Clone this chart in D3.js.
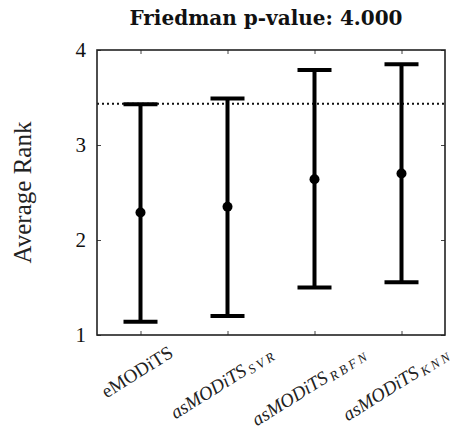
<!DOCTYPE html>
<html>
<head>
<meta charset="utf-8">
<script src="https://cdn.jsdelivr.net/npm/d3@7"></script>
<style>
    body { margin: 0; background: #fff; }
    svg { display: block; }
</style>
</head>
<body>
<div class="container"></div>
<script>
// values
const methods = ['eMODiTS', 'asMODiTS_SVR', 'asMODiTS_RBFN', 'asMODiTS_KNN'];
const labelMain = ['eMODiTS', 'asMODiTS', 'asMODiTS', 'asMODiTS'];
const labelSub = ['', 'SVR', 'RBFN', 'KNN'];
const meanRank = [2.29, 2.35, 2.64, 2.70];
const lowerRank = [1.14, 1.20, 1.50, 1.555];
const upperRank = [3.43, 3.49, 3.79, 3.85];
const criticalLine = 3.435;
const yTicks = [1, 2, 3, 4];
const title = 'Friedman p-value: 4.000';

const w = 460;
const h = 432;
const margin = { top: 50, right: 15, bottom: 97, left: 97 };

const svg = d3.select('.container')
    .append('svg')
    .attr('width', w)
    .attr('height', h);

const x = d3.scalePoint()
    .domain(methods)
    .range([margin.left, w - margin.right])
    .padding(0.5);

const y = d3.scaleLinear()
    .domain([1, 4])
    .range([h - margin.bottom, margin.top]);

// title
svg.append('text')
    .attr('x', 266)
    .attr('y', 25)
    .attr('text-anchor', 'middle')
    .style('font-family', 'DejaVu Serif')
    .style('font-weight', 'bold')
    .style('font-size', '20px')
    .attr('fill', '#111')
    .text(title);

// dotted critical line
svg.append('line')
    .attr('x1', margin.left)
    .attr('x2', w - margin.right)
    .attr('y1', y(criticalLine))
    .attr('y2', y(criticalLine))
    .attr('stroke', '#111')
    .attr('stroke-width', 2)
    .attr('stroke-dasharray', '2,3');

// axes with inward ticks
const tickLen = 4;
const axisLeft = svg.append('g')
    .attr('transform', `translate(${margin.left},0)`)
    .call(d3.axisLeft(y).tickValues(yTicks).tickSize(-tickLen).tickPadding(11).tickFormat(d3.format('d')));
const axisRight = svg.append('g')
    .attr('transform', `translate(${w - margin.right},0)`)
    .call(d3.axisRight(y).tickValues(yTicks).tickSize(-tickLen).tickFormat(''));
const axisBottom = svg.append('g')
    .attr('transform', `translate(0,${h - margin.bottom})`)
    .call(d3.axisBottom(x).tickSize(-tickLen).tickFormat(''));
const axisTop = svg.append('g')
    .attr('transform', `translate(0,${margin.top})`)
    .call(d3.axisTop(x).tickSize(-tickLen).tickFormat(''));

[axisLeft, axisRight, axisBottom, axisTop].forEach(g => {
    g.select('.domain').remove();
    g.selectAll('.tick line').attr('stroke', '#444').attr('stroke-width', 1);
});
axisLeft.selectAll('.tick text')
    .style('font-family', 'Liberation Serif')
    .style('font-size', '21px')
    .attr('fill', '#111');

// frame
svg.append('rect')
    .attr('x', margin.left)
    .attr('y', margin.top)
    .attr('width', w - margin.right - margin.left)
    .attr('height', h - margin.bottom - margin.top)
    .attr('fill', 'none')
    .attr('stroke', '#222')
    .attr('stroke-width', 1.6);

// y axis label
svg.append('text')
    .attr('transform', `translate(31,${(margin.top + h - margin.bottom) / 2}) rotate(-90)`)
    .attr('text-anchor', 'middle')
    .style('font-family', 'Liberation Serif')
    .style('font-size', '25px')
    .attr('fill', '#222')
    .text('Average Rank');

// error bars
const capW = 34;
const bars = svg.append('g')
    .selectAll('g')
    .data(methods)
    .join('g');

bars.append('line')
    .attr('x1', d => x(d))
    .attr('x2', d => x(d))
    .attr('y1', (d, i) => y(lowerRank[i]))
    .attr('y2', (d, i) => y(upperRank[i]))
    .attr('stroke', '#000')
    .attr('stroke-width', 4);

bars.append('line')
    .attr('x1', d => x(d) - capW / 2)
    .attr('x2', d => x(d) + capW / 2)
    .attr('y1', (d, i) => y(upperRank[i]))
    .attr('y2', (d, i) => y(upperRank[i]))
    .attr('stroke', '#000')
    .attr('stroke-width', 4);

bars.append('line')
    .attr('x1', d => x(d) - capW / 2)
    .attr('x2', d => x(d) + capW / 2)
    .attr('y1', (d, i) => y(lowerRank[i]))
    .attr('y2', (d, i) => y(lowerRank[i]))
    .attr('stroke', '#000')
    .attr('stroke-width', 4);

bars.append('circle')
    .attr('cx', d => x(d))
    .attr('cy', (d, i) => y(meanRank[i]))
    .attr('r', 5)
    .attr('fill', '#000');

// rotated category labels
const angle = 32;
const rad = angle * Math.PI / 180;
methods.forEach((m, i) => {
    const t = svg.append('text')
        .attr('text-anchor', 'end')
        .style('font-family', 'Liberation Serif')
        .style('font-style', i === 0 ? 'normal' : 'italic')
        .style('font-size', '19px')
        .attr('fill', '#222');
    t.append('tspan').text(labelMain[i]);
    if (labelSub[i]) {
        t.append('tspan')
            .attr('dy', 2)
            .attr('dx', 3)
            .style('font-size', '13px')
            .style('letter-spacing', '3px')
            .text(labelSub[i]);
    }
    const len = t.node().getComputedTextLength();
    t.attr('transform', `translate(${x(m) + len / 2 * Math.cos(rad)},${356}) rotate(${-angle})`);
});
</script>
</body>
</html>
